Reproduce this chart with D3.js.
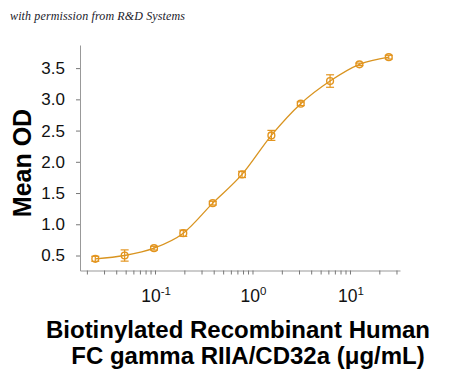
<!DOCTYPE html>
<html>
<head>
<meta charset="utf-8">
<script src="https://cdn.jsdelivr.net/npm/d3@7"></script>
<style>
  body { margin: 0; background: #fff; }
  svg { display: block; }
</style>
</head>
<body>
<div id="chart"></div>
<script>
// concentration (ug/mL), 2-fold dilutions
const conc = [0.0244, 0.0488, 0.0977, 0.195, 0.391, 0.781, 1.5625, 3.125, 6.25, 12.5, 25];
// mean OD
const meanOD = [0.447, 0.50, 0.617, 0.857, 1.338, 1.798, 2.423, 2.93, 3.293, 3.56, 3.675];
// error bar half heights
const errOD = [0.04, 0.09, 0.03, 0.05, 0.03, 0.05, 0.08, 0.03, 0.10, 0.02, 0.03];

const yTicks = [0.5, 1.0, 1.5, 2.0, 2.5, 3.0, 3.5];
const xMajor = [0.1, 1, 10];
const xExp = ['-1', '0', '1'];

const width = 450, height = 377;
const orange = '#e3951f';

const svg = d3.select('#chart').append('svg')
  .attr('width', width)
  .attr('height', height);

// scales
const x = d3.scaleLog().domain([0.017, 32.6]).range([80, 400]);
const y = d3.scaleLinear().domain([0.26, 3.87]).range([270.5, 45]);

// watermark
svg.append('text')
  .attr('x', 10).attr('y', 20)
  .attr('font-family', 'Liberation Serif, serif')
  .attr('font-style', 'italic')
  .attr('font-size', 12)
  .attr('fill', '#1a1a2a')
  .attr('textLength', 175)
  .text('with permission from R&D Systems');

// y axis
const yAxis = d3.axisLeft(y).tickValues(yTicks).tickFormat(d3.format('.1f'))
  .tickSize(4).tickPadding(11).tickSizeOuter(0);
const gy = svg.append('g').attr('transform', 'translate(80,0)').call(yAxis);
gy.select('.domain').attr('stroke', '#999');
gy.selectAll('.tick line').attr('stroke', '#777');
gy.selectAll('.tick text')
  .attr('font-family', 'Liberation Sans, Arial, sans-serif')
  .attr('font-size', 17)
  .attr('fill', '#111');

// x axis: minor and major ticks
let xTickVals = [];
[0.01, 0.1, 1, 10].forEach(dec => {
  for (let k = 1; k <= 9; k++) {
    const v = dec * k;
    if (v >= 0.017 && v <= 32.6) xTickVals.push(v);
  }
});
const xAxis = d3.axisBottom(x).tickValues(xTickVals).tickFormat('')
  .tickSize(4).tickSizeOuter(0);
const gx = svg.append('g').attr('transform', 'translate(0,270.5)').call(xAxis);
gx.select('.domain').attr('stroke', '#999');
gx.selectAll('.tick line').attr('stroke', '#777');

// x labels with superscripts
const xl = svg.append('g')
  .attr('font-family', 'Liberation Sans, Arial, sans-serif')
  .attr('fill', '#111');
xMajor.forEach((v, i) => {
  const t = xl.append('text')
    .attr('x', x(v) + 1)
    .attr('y', 302)
    .attr('text-anchor', 'middle')
    .attr('font-size', 17.5);
  t.append('tspan').text('10');
  t.append('tspan').attr('dy', -7).attr('font-size', 11.5).text(xExp[i]);
});

// fitted curve through the points
const line = d3.line()
  .x((d, i) => x(conc[i]))
  .y(d => y(d))
  .curve(d3.curveMonotoneX);
svg.append('path')
  .datum(meanOD)
  .attr('d', line)
  .attr('fill', 'none')
  .attr('stroke', '#d99420')
  .attr('stroke-width', 1.3);

// error bars
const eb = svg.append('g').attr('stroke', orange).attr('stroke-width', 1.2);
meanOD.forEach((m, i) => {
  const cx = x(conc[i]);
  const lo = y(m - errOD[i]), hi = y(m + errOD[i]);
  eb.append('line').attr('x1', cx).attr('x2', cx).attr('y1', lo).attr('y2', hi);
  eb.append('line').attr('x1', cx - 4).attr('x2', cx + 4).attr('y1', lo).attr('y2', lo);
  eb.append('line').attr('x1', cx - 4).attr('x2', cx + 4).attr('y1', hi).attr('y2', hi);
});

// markers
svg.append('g').selectAll('circle')
  .data(meanOD)
  .join('circle')
  .attr('cx', (d, i) => x(conc[i]))
  .attr('cy', d => y(d))
  .attr('r', 3.4)
  .attr('fill', 'none')
  .attr('stroke', orange)
  .attr('stroke-width', 1.4);

// y title
svg.append('text')
  .attr('transform', 'translate(31,163) rotate(-90)')
  .attr('text-anchor', 'middle')
  .attr('font-family', 'Liberation Sans, Arial, sans-serif')
  .attr('font-weight', 'bold')
  .attr('font-size', 25)
  .attr('fill', '#000')
  .text('Mean OD');

// x title
const xt = svg.append('text')
  .attr('text-anchor', 'middle')
  .attr('font-family', 'Liberation Sans, Arial, sans-serif')
  .attr('font-weight', 'bold')
  .attr('font-size', 24)
  .attr('fill', '#000');
xt.append('tspan').attr('x', 238).attr('y', 338).text('Biotinylated Recombinant Human');
xt.append('tspan').attr('x', 248).attr('y', 364).text('FC gamma RIIA/CD32a (\u03bcg/mL)');
</script>
</body>
</html>
